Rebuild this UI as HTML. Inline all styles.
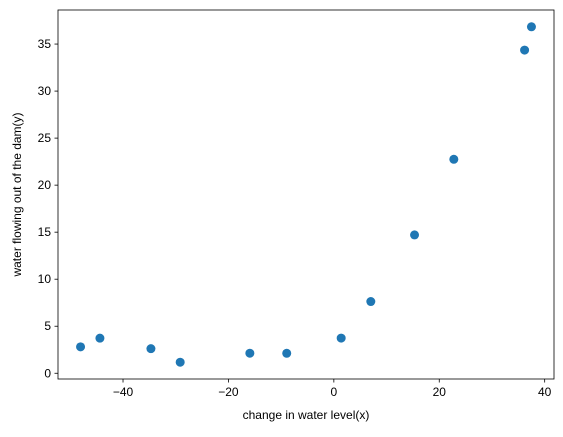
<!DOCTYPE html>
<html><head><meta charset="utf-8">
<style>
html,body{margin:0;padding:0;background:#fff;}
svg text{font-family:"Liberation Sans","DejaVu Sans",sans-serif;font-size:12px;fill:#000;}
</style></head>
<body>
<svg id="chart" width="563" height="432" xmlns="http://www.w3.org/2000/svg"></svg>
<script>
const xValues = [-15.9368, -29.1530, 36.1895, 37.4922, -48.0588, -8.9415, 15.3079, -34.7063, 1.3892, -44.3838, 7.0135, 22.7627];
const yValues = [2.1343, 1.1733, 34.3591, 36.8380, 2.8090, 2.1211, 14.7103, 2.6142, 3.7402, 3.7317, 7.6277, 22.7524];
const xTicks = [-40, -20, 0, 20, 40];
const yTicks = [0, 5, 10, 15, 20, 25, 30, 35];

const NS = "http://www.w3.org/2000/svg";
const svg = document.getElementById('chart');
const L = 58, R = 554, T = 10, B = 379;
const xmin = Math.min(...xValues), xmax = Math.max(...xValues);
const ymin = Math.min(...yValues), ymax = Math.max(...yValues);
const xpad = (xmax - xmin) * 0.05, ypad = (ymax - ymin) * 0.05;
const x0 = xmin - xpad, x1 = xmax + xpad, y0 = ymin - ypad, y1 = ymax + ypad;
function sx(v){ return L + (v - x0) / (x1 - x0) * (R - L); }
function sy(v){ return B - (v - y0) / (y1 - y0) * (B - T); }
function mk(tag, attrs){ const e = document.createElementNS(NS, tag); for (const k in attrs) e.setAttribute(k, attrs[k]); svg.appendChild(e); return e; }

const frame = mk('rect', {x:L, y:T, width:R-L, height:B-T, fill:'none', stroke:'#000', 'stroke-width':0.8});



xTicks.forEach(t => {
  const px = sx(t);
  const tk = mk('line', {x1:px, x2:px, y1:B, y2:B+3.5, stroke:'#000', 'stroke-width':0.8});
  
  
  const lb = mk('text', {x:px, y:B+17, 'text-anchor':'middle'});
  lb.textContent = t < 0 ? '\u2212' + Math.abs(t) : t;
  
  
});
yTicks.forEach(t => {
  const py = sy(t);
  const tk = mk('line', {x1:L-3.5, x2:L, y1:py, y2:py, stroke:'#000', 'stroke-width':0.8});
  
  
  const lb = mk('text', {x:L-7, y:py+4, 'text-anchor':'end'});
  lb.textContent = t;
  
  
});

xValues.forEach((v, i) => {
  const c = mk('circle', {cx:sx(v), cy:sy(yValues[i]), r:4.5, fill:'#1f77b4'});
  
  
});

const xt = mk('text', {x:(L+R)/2, y:419, 'text-anchor':'middle'});
xt.textContent = 'change in water level(x)';


const yt = mk('text', {x:0, y:0, 'text-anchor':'middle', transform:'translate(21,' + ((T+B)/2) + ') rotate(-90)'});
yt.textContent = 'water flowing out of the dam(y)';


</script>
</body></html>
